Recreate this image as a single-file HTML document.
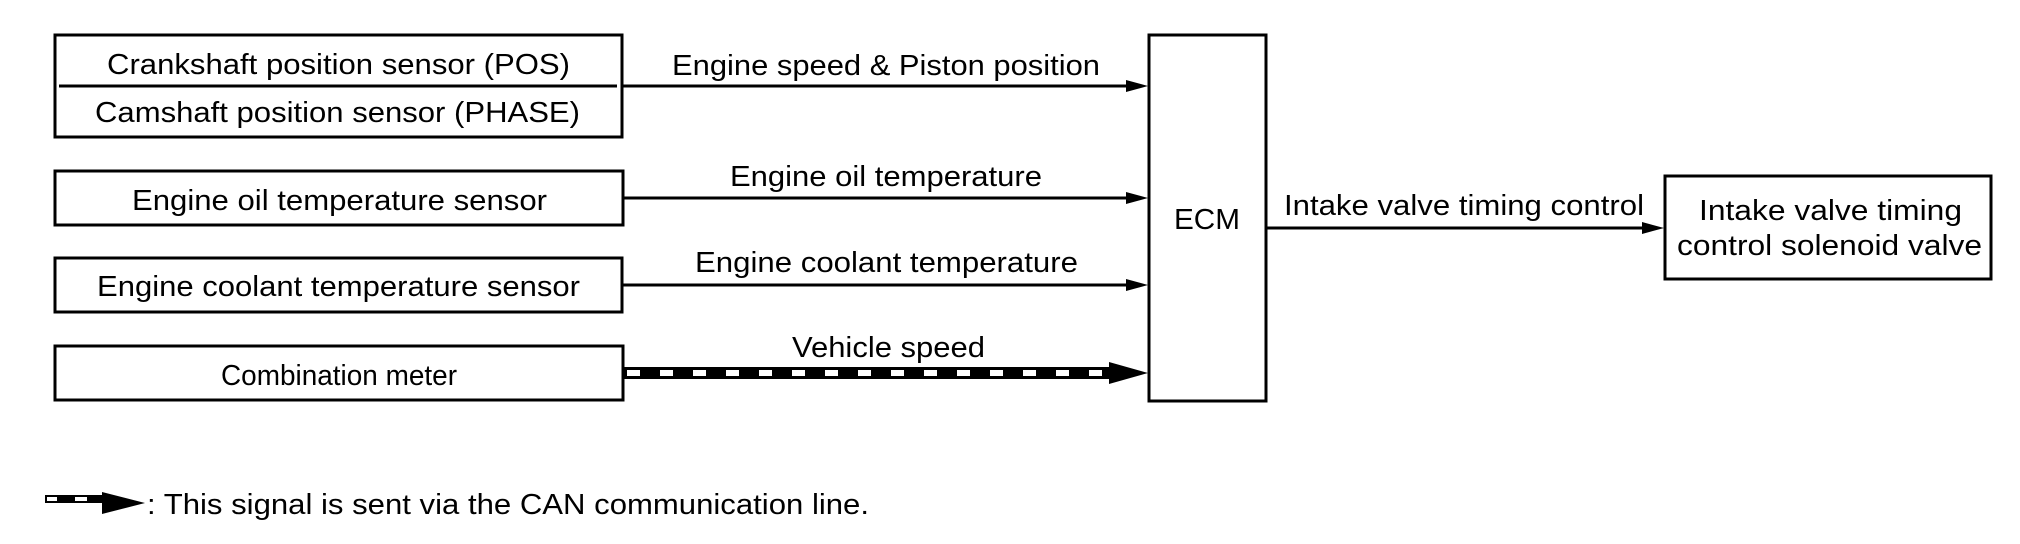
<!DOCTYPE html>
<html><head><meta charset="utf-8"><style>
html,body{margin:0;padding:0;background:#fff;}
svg{display:block;}
text{font-family:"Liberation Sans",Arial,sans-serif;font-size:29px;fill:#000;}
</style></head><body>
<svg width="2020" height="544" viewBox="0 0 2020 544" xmlns="http://www.w3.org/2000/svg">
<g fill="none" stroke="#000" stroke-width="3">
<rect x="55" y="35" width="567" height="102"/>
<line x1="59" y1="86" x2="617" y2="86"/>
<rect x="55" y="171" width="568" height="54"/>
<rect x="55" y="258" width="567" height="54"/>
<rect x="55" y="346" width="568" height="54"/>
<rect x="1149" y="35" width="117" height="366"/>
<rect x="1665" y="176" width="326" height="103"/>
</g>
<g stroke="#000" stroke-width="3">
<line x1="622" y1="86" x2="1130" y2="86"/>
<line x1="623" y1="198" x2="1130" y2="198"/>
<line x1="622" y1="285" x2="1130" y2="285"/>
<line x1="1266" y1="228" x2="1646" y2="228"/>
</g>
<g fill="#000">
<polygon points="1126,80 1148,86 1126,92"/>
<polygon points="1126,192 1148,198 1126,204"/>
<polygon points="1126,279 1148,285 1126,291"/>
<polygon points="1642,222 1664,228 1642,234"/>
<rect x="623" y="367" width="488" height="12"/>
<polygon points="1109,362 1148,373 1109,384"/>
<rect x="45" y="495" width="60" height="8"/>
<polygon points="102,492 145,503 102,514"/>
</g>
<g fill="#fff">
<rect x="627" y="370" width="13" height="6"/><rect x="660" y="370" width="13" height="6"/>
<rect x="693" y="370" width="13" height="6"/><rect x="726" y="370" width="13" height="6"/>
<rect x="759" y="370" width="13" height="6"/><rect x="792" y="370" width="13" height="6"/>
<rect x="825" y="370" width="13" height="6"/><rect x="858" y="370" width="13" height="6"/>
<rect x="891" y="370" width="13" height="6"/><rect x="924" y="370" width="13" height="6"/>
<rect x="957" y="370" width="13" height="6"/><rect x="990" y="370" width="13" height="6"/>
<rect x="1023" y="370" width="13" height="6"/><rect x="1056" y="370" width="13" height="6"/>
<rect x="1089" y="370" width="13" height="6"/>
<rect x="47" y="497" width="10" height="4"/><rect x="75" y="497" width="12" height="4"/>
</g>
<text x="107" y="74" textLength="463" lengthAdjust="spacingAndGlyphs">Crankshaft position sensor (POS)</text>
<text x="95" y="122" textLength="485" lengthAdjust="spacingAndGlyphs">Camshaft position sensor (PHASE)</text>
<text x="132" y="210" textLength="415" lengthAdjust="spacingAndGlyphs">Engine oil temperature sensor</text>
<text x="97" y="296" textLength="483" lengthAdjust="spacingAndGlyphs">Engine coolant temperature sensor</text>
<text x="221" y="385" textLength="236" lengthAdjust="spacingAndGlyphs">Combination meter</text>
<text x="672" y="75" textLength="428" lengthAdjust="spacingAndGlyphs">Engine speed &amp; Piston position</text>
<text x="730" y="186" textLength="312" lengthAdjust="spacingAndGlyphs">Engine oil temperature</text>
<text x="695" y="272" textLength="383" lengthAdjust="spacingAndGlyphs">Engine coolant temperature</text>
<text x="792" y="357" textLength="193" lengthAdjust="spacingAndGlyphs">Vehicle speed</text>
<text x="1174" y="229" textLength="66" lengthAdjust="spacingAndGlyphs">ECM</text>
<text x="1284" y="215" textLength="360" lengthAdjust="spacingAndGlyphs">Intake valve timing control</text>
<text x="1699" y="220" textLength="263" lengthAdjust="spacingAndGlyphs">Intake valve timing</text>
<text x="1677" y="255" textLength="305" lengthAdjust="spacingAndGlyphs">control solenoid valve</text>
<text x="147" y="514" textLength="722" lengthAdjust="spacingAndGlyphs">: This signal is sent via the CAN communication line.</text>
</svg>
</body></html>
